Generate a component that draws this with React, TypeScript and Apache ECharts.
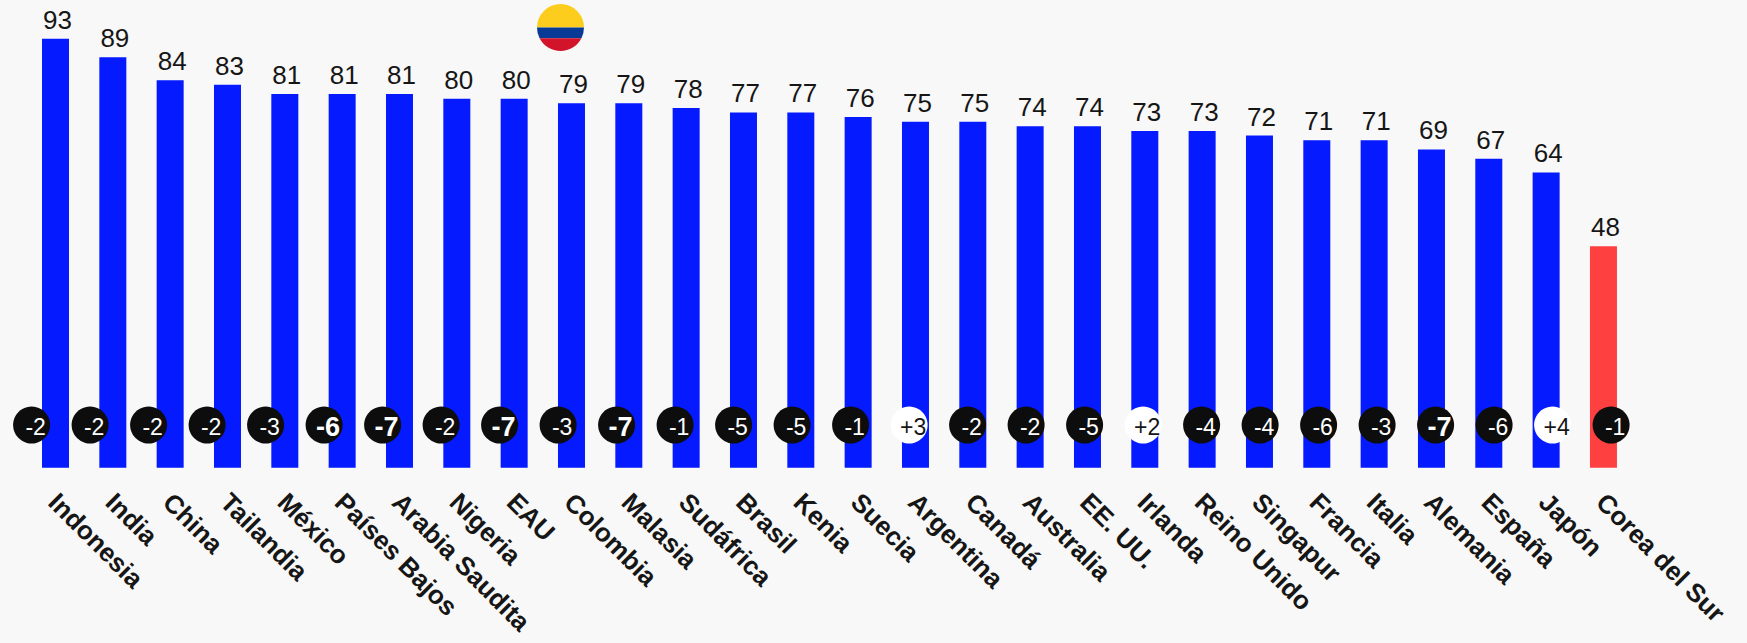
import React, { useEffect, useRef } from "react";
import * as echarts from "echarts";

const countries = ["Indonesia","India","China","Tailandia","México","Países Bajos","Arabia Saudita","Nigeria","EAU","Colombia","Malasia","Sudáfrica","Brasil","Kenia","Suecia","Argentina","Canadá","Australia","EE. UU.","Irlanda","Reino Unido","Singapur","Francia","Italia","Alemania","España","Japón","Corea del Sur"];
const scores = [93,89,84,83,81,81,81,80,80,79,79,78,77,77,76,75,75,74,74,73,73,72,71,71,69,67,64,48];
const changes = [-2,-2,-2,-2,-3,-6,-7,-2,-7,-3,-7,-1,-5,-5,-1,3,-2,-2,-5,2,-4,-4,-6,-3,-7,-6,4,-1];
const strongChanges = ["Países Bajos","Arabia Saudita","EAU","Malasia","Alemania"];
const outlier = "Corea del Sur";
const badgeRow = 9.25;

const BG = "#f8f8f8";
const FONT = "'Liberation Sans', Arial, sans-serif";

const flagStripes: [string, string, string][] = [
  ["flagYellow", "M0 23.5 A23.5 23.5 0 0 1 47 23.5 Z", "#fccd1c"],
  ["flagBlue", "M0 23.5 L47 23.5 A23.5 23.5 0 0 1 44.4 34.3 L2.6 34.3 A23.5 23.5 0 0 1 0 23.5 Z", "#063a96"],
  ["flagRed", "M2.6 34.3 L44.4 34.3 A23.5 23.5 0 0 1 2.6 34.3 Z", "#d2142a"],
];
flagStripes.forEach(([name, d]) => {
  echarts.graphic.registerShape(name, echarts.graphic.extendPath(d, {}));
});

export default function App() {
  const ref = useRef<HTMLDivElement>(null);
  useEffect(() => {
    document.body.style.margin = "0";
    document.body.style.background = BG;
    const chart = echarts.init(ref.current!, undefined, { renderer: "svg" });
    chart.setOption({
      animation: false,
      backgroundColor: BG,
      textStyle: { fontFamily: FONT },
      grid: [
        { left: 26.83, width: 1605.3, top: 6.4, height: 461.3 },
        { left: 2.35, width: 1638, top: 6.4, height: 461.3 },
        // carries only the slanted country names, set slightly left of the bars
        { left: 24.33, width: 1605.3, top: 6.4, height: 461.3 },
      ],
      xAxis: [
        { type: "category", data: countries, gridIndex: 0, show: false },
        { type: "category", data: countries, gridIndex: 1, show: false },
        {
          type: "category", data: countries, gridIndex: 2,
          axisLine: { show: false }, axisTick: { show: false },
          axisLabel: {
            interval: 0, rotate: -45, margin: 30, fontSize: 26, fontWeight: "bold",
            color: "#161616", fontFamily: FONT, align: "left", verticalAlign: "middle",
          },
        },
      ],
      yAxis: [
        { type: "value", min: 0, max: 100, gridIndex: 0, show: false },
        { type: "value", min: 0, max: 100, gridIndex: 1, show: false },
        { type: "value", min: 0, max: 100, gridIndex: 2, show: false },
      ],
      series: [
        {
          type: "bar", xAxisIndex: 0, yAxisIndex: 0, barWidth: 27,
          data: scores.map((v, i) => ({
            value: v,
            itemStyle: { color: countries[i] === outlier ? "#ff4040" : "#051aff" },
          })),
          label: {
            show: true, position: "top", distance: 6, offset: [2, 0],
            fontSize: 26, color: "#161616", fontFamily: FONT,
          },
        },
        {
          type: "scatter", xAxisIndex: 1, yAxisIndex: 1, symbol: "circle", symbolSize: 37, z: 5,
          data: changes.map((c, i) => {
            const strong = strongChanges.includes(countries[i]);
            return {
              value: [i, badgeRow],
              itemStyle: { color: c > 0 ? "#ffffff" : "#0d0d0d", opacity: 1 },
              label: {
                show: true, position: "inside", offset: [4, 2],
                formatter: c > 0 ? `+${c}` : `${c}`,
                fontSize: strong ? 27 : 23,
                fontWeight: strong ? "bold" : "normal",
                color: c > 0 ? "#161616" : "#ffffff",
                fontFamily: FONT,
              },
            };
          }),
        },
      ],
      graphic: flagStripes.map(([name, , color]) => ({
        type: name, x: 537, y: 4, style: { fill: color },
      })),
    });
    return () => chart.dispose();
  }, []);
  return <div ref={ref} style={{ width: 1747, height: 643 }} />;
}
